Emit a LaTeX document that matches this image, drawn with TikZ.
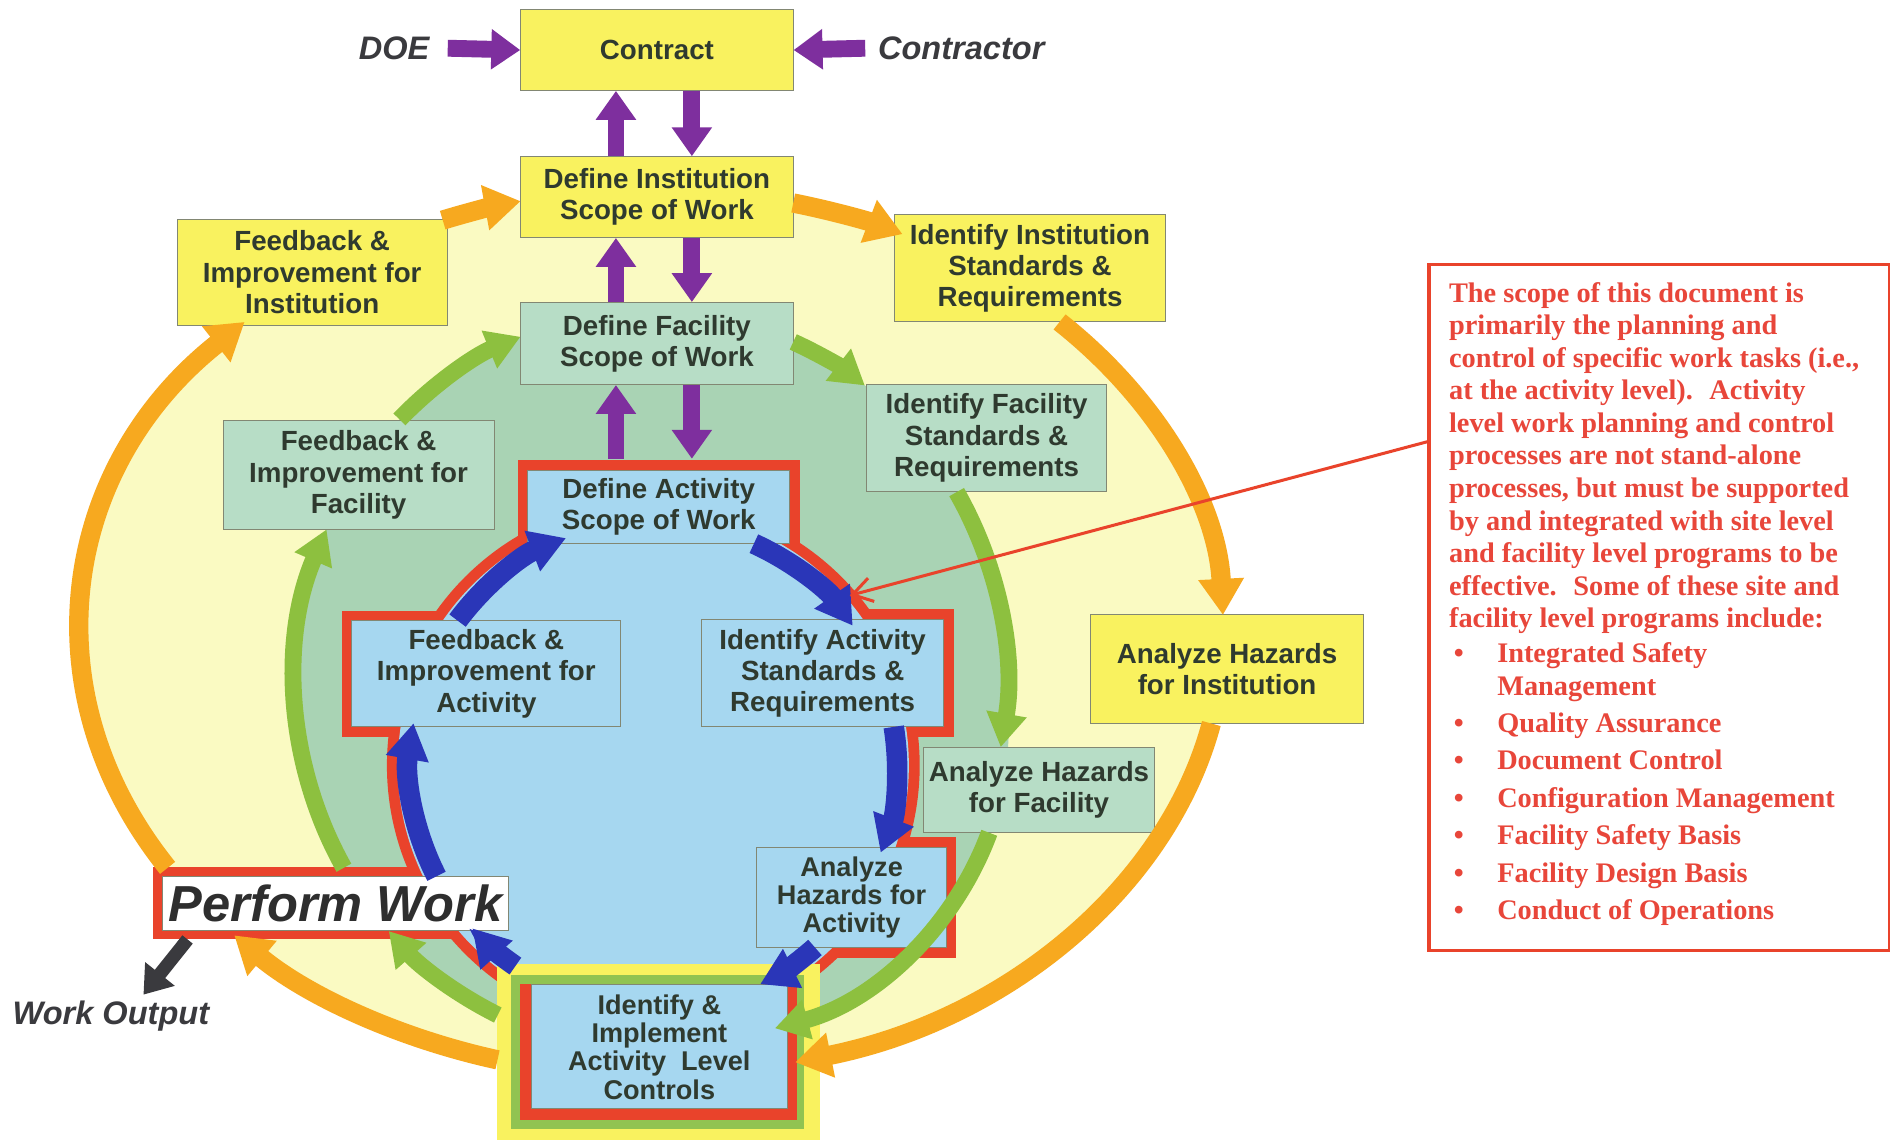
\documentclass[tikz,border=0pt]{standalone}
\usepackage{fontspec}
\setmainfont{Liberation Sans}
\newfontfamily\notefont{Liberation Serif}
\usepackage{tikz}
\usetikzlibrary{arrows.meta,backgrounds}

\definecolor{instfill}{RGB}{249,242,95}
\definecolor{instfield}{RGB}{250,250,194}
\definecolor{facfill}{RGB}{183,221,198}
\definecolor{facfield}{RGB}{169,211,180}
\definecolor{actfill}{RGB}{166,215,240}
\definecolor{actred}{RGB}{233,67,43}
\definecolor{boxline}{RGB}{130,135,115}
\definecolor{txt}{RGB}{47,58,47}
\definecolor{orng}{RGB}{247,169,31}
\definecolor{grn}{RGB}{141,192,63}
\definecolor{blu}{RGB}{42,54,184}
\definecolor{purp}{RGB}{126,47,158}
\definecolor{notered}{RGB}{232,70,58}
\definecolor{outgray}{RGB}{58,58,62}

\begin{document}
\begin{tikzpicture}[x=1pt,y=-1pt,
		box/.style={draw=boxline, line width=0.8pt, inner sep=0pt, align=center, text=txt,
			font=\fontsize{23}{26}\selectfont\bfseries},
		inst/.style={box, fill=instfill},
		fac/.style={box, fill=facfill},
		act/.style={box, fill=actfill},
		tight/.style={font=\fontsize{22.5}{23.5}\selectfont\bfseries},
		side/.style={inner sep=0pt, text=outgray, font=\fontsize{27}{30}\selectfont\bfseries\itshape},
		purparrow/.style={purp, line width=14pt, -{Triangle[width=32pt,length=24pt]}},
		orngarc/.style={orng, line width=16pt, -{Triangle[width=36pt,length=30pt]}},
		grnarc/.style={grn, line width=14pt, -{Triangle[width=32pt,length=28pt]}},
		bluarc/.style={blu, line width=17pt, -{Triangle[width=34pt,length=30pt]}}]
	\useasboundingbox (0,0) rectangle (1568,945);

	% ring centres
	\coordinate (oc) at (541,525);
	\coordinate (gc) at (540,565);
	\coordinate (gclow) at (575,600);
	\coordinate (bc) at (542,635);

	% institution level
	\node[inst, minimum width=226pt, minimum height=67pt] (contract) at (545,41.5) {Contract};
	\node[inst, minimum width=226pt, minimum height=67pt] (definst) at (545,163.5) {Define Institution\\Scope of Work};
	\node[inst, minimum width=224pt, minimum height=88pt] (fbinst) at (259,226) {Feedback \&\\Improvement for\\Institution};
	\node[inst, minimum width=225pt, minimum height=89pt] (idinst) at (854.5,222.5) {Identify Institution\\Standards \&\\Requirements};
	\node[inst, minimum width=226pt, minimum height=90pt] (azinst) at (1018,555) {Analyze Hazards\\for Institution};

	% facility level
	\node[fac, minimum width=226pt, minimum height=68pt] (deffac) at (545,285) {Define Facility\\Scope of Work};
	\node[fac, minimum width=199pt, minimum height=89pt] (idfac) at (818.5,363.5) {Identify Facility\\Standards \&\\Requirements};
	\node[fac, minimum width=225pt, minimum height=90pt] (fbfac) at (297.5,394) {Feedback \&\\Improvement for\\Facility};
	\node[fac, minimum width=192pt, minimum height=71pt] (azfac) at (862,655.5) {Analyze Hazards\\for Facility};

	% activity level
	\node[act, minimum width=217pt, minimum height=61pt] (defact) at (546.5,420.5) {Define Activity\\Scope of Work};
	\node[act, minimum width=223pt, minimum height=88pt] (fbact) at (403.5,559) {Feedback \&\\Improvement for\\Activity};
	\node[act, minimum width=201pt, minimum height=89pt] (idact) at (682.5,558.5) {Identify Activity\\Standards \&\\Requirements};
	\node[act, tight, minimum width=157pt, minimum height=83pt] (azact) at (706.5,744.5) {Analyze\\Hazards for\\Activity};
	\node[act, tight, minimum width=212pt, minimum height=103pt] (impl) at (547,868.5) {Identify \&\\Implement\\Activity~ Level\\Controls};
	\node[box, fill=white, minimum width=287pt, minimum height=45pt, text=black!82,
		font=\fontsize{42}{46}\selectfont\bfseries\itshape] (perform) at (278.5,749.5) {Perform Work};

	\node[side] (doe) at (327,40) {DOE};
	\node[side] (contractor) at (797.5,40) {Contractor};
	\node[side] (workout) at (92,843) {Work Output};

	% fields behind the boxes
	\begin{scope}[on background layer]
		\fill[white] (0,0) rectangle (1568,945);
		\fill[instfield] (oc) ellipse [x radius=474, y radius=368];
		\fill[facfield] (gc) ellipse [x radius=295, y radius=307];
		\fill[facfield] (gclow) circle [radius=262];
		\fill[actred] (bc) circle [radius=221];
		\fill[actred] ([shift={(-8pt,8pt)}]defact.north west) rectangle ([shift={(8pt,-8pt)}]defact.south east);
		\fill[actred] ([shift={(-8pt,8pt)}]fbact.north west) rectangle ([shift={(8pt,-8pt)}]fbact.south east);
		\fill[actred] ([shift={(-8pt,8pt)}]idact.north west) rectangle ([shift={(8pt,-8pt)}]idact.south east);
		\fill[actred] ([shift={(-8pt,8pt)}]azact.north west) rectangle ([shift={(8pt,-8pt)}]azact.south east);
		\fill[actred] ([shift={(-8pt,7pt)}]perform.north west) rectangle ([shift={(8pt,-7pt)}]perform.south east);
		\fill[actfill] (bc) circle [radius=212];
		\fill[instfill] ([shift={(-28pt,17pt)}]impl.north west) rectangle ([shift={(27pt,-30pt)}]impl.south east);
		\fill[grn!85!facfield] ([shift={(-17pt,8pt)}]impl.north west) rectangle ([shift={(14pt,-16pt)}]impl.south east);
		\fill[actred] ([shift={(-9pt,0pt)}]impl.north west) rectangle ([shift={(8pt,-9pt)}]impl.south east);
	\end{scope}

	% contract links
	\draw[purparrow] ([xshift=15pt]doe.east) -- (contract.west);
	\draw[purparrow] ([xshift=-10.5pt]contractor.west) -- (contract.east);
	\draw[purparrow] ([xshift=-34pt]definst.north) -- ([xshift=-34pt]contract.south);
	\draw[purparrow] ([xshift=29pt]contract.south) -- ([xshift=29pt]definst.north);
	\draw[purparrow] ([xshift=-34pt]deffac.north) -- ([xshift=-34pt]definst.south);
	\draw[purparrow] ([xshift=29pt]definst.south) -- ([xshift=29pt]deffac.north);
	\draw[purparrow] ([xshift=-35.5pt,yshift=9pt]defact.north) -- ([xshift=-34pt]deffac.south);
	\draw[purparrow] ([xshift=29pt]deffac.south) -- ([xshift=27.5pt,yshift=9pt]defact.north);

	% institution ring
	\draw[orngarc] (oc) ++(-111.5:474 and 368) arc[start angle=-111.5, end angle=-103.3, x radius=474, y radius=368];
	\draw[orngarc] (oc) ++(-75.7:474 and 368) arc[start angle=-75.7, end angle=-64, x radius=474, y radius=368];
	\draw[orngarc] (oc) ++(-44.5:474 and 368) arc[start angle=-44.5, end angle=-2.3, x radius=474, y radius=368];
	\draw[orngarc] (oc) ++(11.8:474 and 368) arc[start angle=11.8, end angle=75.5, x radius=474, y radius=368];
	\draw[orngarc] (oc) ++(105.7:474 and 368) arc[start angle=105.7, end angle=137, x radius=474, y radius=368];
	\draw[orngarc] (oc) ++(148:474 and 368) arc[start angle=148, end angle=224.5, x radius=474, y radius=368];

	% facility ring
	\draw[grnarc] (gc) ++(-135:295 and 307) arc[start angle=-135, end angle=-111.5, x radius=295, y radius=307];
	\draw[grnarc] (gc) ++(-66.4:295 and 307) arc[start angle=-66.4, end angle=-53, x radius=295, y radius=307];
	\draw[grnarc] (gc) ++(-30.7:295 and 307) arc[start angle=-30.7, end angle=10.3, x radius=295, y radius=307];
	\draw[grnarc] (gclow) ++(20.3:262) arc[start angle=20.3, end angle=75, radius=262];
	\draw[grnarc] (gc) ++(115.5:295 and 307) arc[start angle=115.5, end angle=137.5, x radius=295, y radius=307];
	\draw[grnarc] (gc) ++(149.7:295 and 307) arc[start angle=149.7, end angle=204.2, x radius=295, y radius=307];

	% activity ring
	\draw[bluarc] (bc) ++(-65.6:202) arc[start angle=-65.6, end angle=-35, radius=202];
	\draw[bluarc] (bc) ++(-9.1:202) arc[start angle=-9.1, end angle=21, radius=202];
	\draw[bluarc] (bc) ++(48.4:202) arc[start angle=48.4, end angle=64, radius=202];
	\draw[bluarc] (bc) ++(124.5:202) arc[start angle=124.5, end angle=138, radius=202];
	\draw[bluarc] (bc) ++(152.9:202) arc[start angle=152.9, end angle=190, radius=202];
	\draw[bluarc] (bc) ++(216.5:202) arc[start angle=216.5, end angle=249, radius=202];

	\draw[outgray, line width=11pt, -{Triangle[width=30pt,length=22pt]}] ([xshift=21pt,yshift=-7pt]perform.south west) -- ([xshift=27pt,yshift=5pt]workout.north);

	% scope note
	\node[draw=actred, line width=3pt, fill=white, minimum width=382pt, minimum height=569pt, anchor=north west] (scope) at (1184,218) {};
	\node[anchor=north west, inner sep=0pt, align=left, text=notered,
		font=\notefont\bfseries\fontsize{23.5}{27}\selectfont] (scopetext) at ([xshift=18pt,yshift=-16pt]scope.north west)
		{The scope of this document is\\
		primarily the planning and\\
		control of specific work tasks (i.e.,\\
		at the activity level).~ Activity\\
		level work planning and control\\
		processes are not stand-alone\\
		processes, but must be supported\\
		by and integrated with site level\\
		and facility level programs to be\\
		effective.~ Some of these site and\\
		facility level programs include:\\[2pt]
		\hspace*{4pt}\makebox[36pt][l]{\textbullet}Integrated Safety\\
		\hspace*{40pt}Management\\[4pt]
		\hspace*{4pt}\makebox[36pt][l]{\textbullet}Quality Assurance\\[4pt]
		\hspace*{4pt}\makebox[36pt][l]{\textbullet}Document Control\\[4pt]
		\hspace*{4pt}\makebox[36pt][l]{\textbullet}Configuration Management\\[4pt]
		\hspace*{4pt}\makebox[36pt][l]{\textbullet}Facility Safety Basis\\[4pt]
		\hspace*{4pt}\makebox[36pt][l]{\textbullet}Facility Design Basis\\[4pt]
		\hspace*{4pt}\makebox[36pt][l]{\textbullet}Conduct of Operations};
	\coordinate (calltip) at (705,494);
	\draw[actred, line width=2.5pt, -{Straight Barb[length=16pt,width=20pt]}] ([yshift=137.5pt]scope.west) -- (calltip);
\end{tikzpicture}
\end{document}
